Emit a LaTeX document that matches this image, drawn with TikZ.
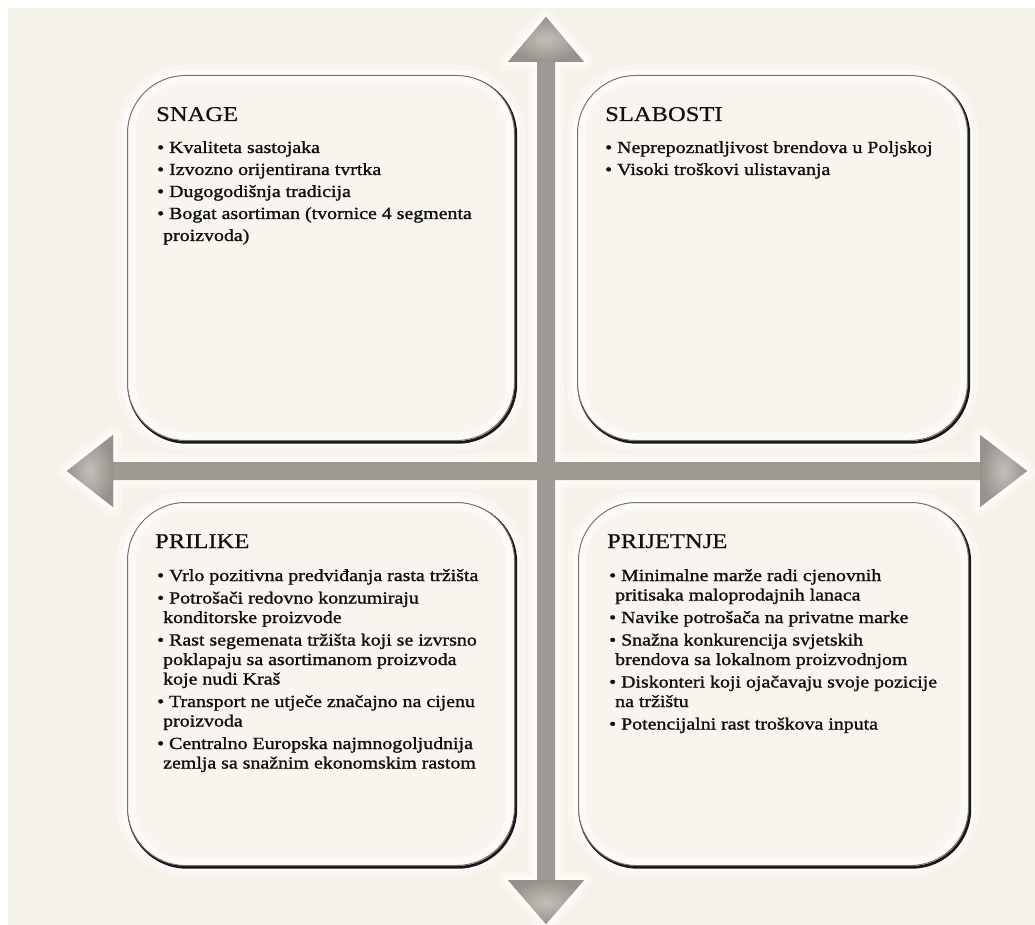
\documentclass[tikz,border=0pt]{standalone}
\usepackage{fontspec}
\setmainfont{Liberation Serif}[FakeStretch=1.17]
\newfontfamily\bodyfont{Liberation Serif}[FakeStretch=1.17, FakeBold=1.3]
\newfontfamily\headfont{Liberation Serif}[FakeStretch=1.17, FakeBold=0.6]
\usetikzlibrary{shadows}
\definecolor{bgcream}{RGB}{245,243,233}
\definecolor{boxfill}{RGB}{247,245,237}
\definecolor{boxline}{RGB}{125,112,102}
\definecolor{arrowgray}{RGB}{158,154,147}
\definecolor{arrowlight}{RGB}{194,191,184}
\definecolor{arrowdark}{RGB}{150,146,139}
\definecolor{txt}{RGB}{15,15,15}
\newcommand{\bul}[1]{\textbullet\ #1}
\newcommand{\cont}[1]{\hspace*{6pt}#1}
\begin{document}
\begin{tikzpicture}[x=1pt,y=1pt,
  quad/.style={rectangle, rounded corners=58pt, inner sep=0pt, anchor=north west,
    fill=boxfill, draw=boxline, line width=1pt,
    preaction={draw=white, line width=22pt, opacity=0.3},
    preaction={draw=white, line width=11pt, opacity=0.7},
    general shadow={shadow xshift=1.3pt, shadow yshift=-1.8pt, draw=black, line width=2.8pt, opacity=0.9, fill=none}},
  innerglow/.style={draw=white, line width=7pt, opacity=0.5, rounded corners=53pt},
  arrowglow/.style={draw=white, line join=round, line width=#1},
  arrowbody/.style={fill=arrowgray, draw=none},
  headshade/.style={inner color=arrowlight, outer color=arrowdark},
  titletext/.style={anchor=base west, inner sep=0pt, text=txt, font=\headfont\fontsize{21}{25}\selectfont},
  bodytop/.style={anchor=base west, inner sep=0pt, text=txt, font=\bodyfont\fontsize{17}{22}\selectfont},
  bodybot/.style={anchor=base west, inner sep=0pt, text=txt, font=\bodyfont\fontsize{17}{19.5}\selectfont}
]
\useasboundingbox (0,0) rectangle (1035,-925);
\fill[white] (0,0) rectangle (1035,-925);
\fill[bgcream] (8,-8) rectangle (1035,-925);

% arrow coordinates
\coordinate (vtop) at (546,-17);
\coordinate (vbot) at (546,-924);
\coordinate (hleft) at (67,-471);
\coordinate (hright) at (1027,-471);

% arrow glows
\foreach \w/\o in {18/0.3, 9/0.6}{
  \draw[arrowglow=\w pt, opacity=\o] (vtop) -- ++(38,-45) -- ++(-29,0) -- (555,-880) -- ++(29,0) -- (vbot) -- ++(-38,44) -- ++(29,0) -- (537,-62) -- ++(-29,0) -- cycle;
  \draw[arrowglow=\w pt, opacity=\o] (hleft) -- ++(46,36) -- ++(0,-27) -- (980,-462) -- ++(0,27) -- (hright) -- ++(-47,-36) -- ++(0,27) -- (113,-480) -- ++(0,-27) -- cycle;
}

% boxes
\node[quad, minimum width=387pt, minimum height=365pt] (snage) at (127,-75) {};
\node[quad, minimum width=390pt, minimum height=365pt] (slabosti) at (577,-75) {};
\node[quad, minimum width=387pt, minimum height=363pt] (prilike) at (127,-502) {};
\node[quad, minimum width=390pt, minimum height=363pt] (prijetnje) at (578,-502) {};
\foreach \b in {snage,slabosti,prilike,prijetnje}{
  \draw[innerglow] ([shift={(5,-5)}]\b.north west) rectangle ([shift={(-5,5)}]\b.south east);
}

% arrows
\fill[arrowbody] (vtop) -- ++(38,-45) -- ++(-29,0) -- (555,-880) -- ++(29,0) -- (vbot) -- ++(-38,44) -- ++(29,0) -- (537,-62) -- ++(-29,0) -- cycle;
\fill[arrowbody] (hleft) -- ++(46,36) -- ++(0,-27) -- (980,-462) -- ++(0,27) -- (hright) -- ++(-47,-36) -- ++(0,27) -- (113,-480) -- ++(0,-27) -- cycle;
\shade[headshade] (vtop) -- ++(38,-45) -- ++(-76,0) -- cycle;
\shade[headshade] (vbot) -- ++(38,44) -- ++(-76,0) -- cycle;
\shade[headshade] (hleft) -- ++(46,36) -- ++(0,-72) -- cycle;
\shade[headshade] (hright) -- ++(-47,36) -- ++(0,-72) -- cycle;

% titles
\node[titletext] (snageh) at (156,-121) {SNAGE};
\node[titletext] (slabostih) at (605,-121) {SLABOSTI};
\node[titletext] (prilikeh) at (155,-548) {PRILIKE};
\node[titletext] (prijetnjeh) at (607,-548) {PRIJETNJE};

% bullet texts
\node[bodytop] (snaget) at (157,-153) {\parbox[t]{350pt}{\raggedright
\bul{Kvaliteta sastojaka}\\
\bul{Izvozno orijentirana tvrtka}\\
\bul{Dugogodišnja tradicija}\\
\bul{Bogat asortiman (tvornice 4 segmenta}\\
\cont{proizvoda)}}};

\node[bodytop] (slabostit) at (605,-153) {\parbox[t]{350pt}{\raggedright
\bul{Neprepoznatljivost brendova u Poljskoj}\\
\bul{Visoki troškovi ulistavanja}}};

\node[bodybot] (prilikt) at (157,-581) {\parbox[t]{350pt}{\raggedright
\bul{Vrlo pozitivna predviđanja rasta tržišta}\\[3pt]
\bul{Potrošači redovno konzumiraju}\\
\cont{konditorske proizvode}\\[3pt]
\bul{Rast segemenata tržišta koji se izvrsno}\\
\cont{poklapaju sa asortimanom proizvoda}\\
\cont{koje nudi Kraš}\\[3pt]
\bul{Transport ne utječe značajno na cijenu}\\
\cont{proizvoda}\\[3pt]
\bul{Centralno Europska najmnogoljudnija}\\
\cont{zemlja sa snažnim ekonomskim rastom}}};

\node[bodybot] (prijetnjet) at (609,-581) {\parbox[t]{350pt}{\raggedright
\bul{Minimalne marže radi cjenovnih}\\
\cont{pritisaka maloprodajnih lanaca}\\[3pt]
\bul{Navike potrošača na privatne marke}\\[3pt]
\bul{Snažna konkurencija svjetskih}\\
\cont{brendova sa lokalnom proizvodnjom}\\[3pt]
\bul{Diskonteri koji ojačavaju svoje pozicije}\\
\cont{na tržištu}\\[3pt]
\bul{Potencijalni rast troškova inputa}}};
\end{tikzpicture}
\end{document}
